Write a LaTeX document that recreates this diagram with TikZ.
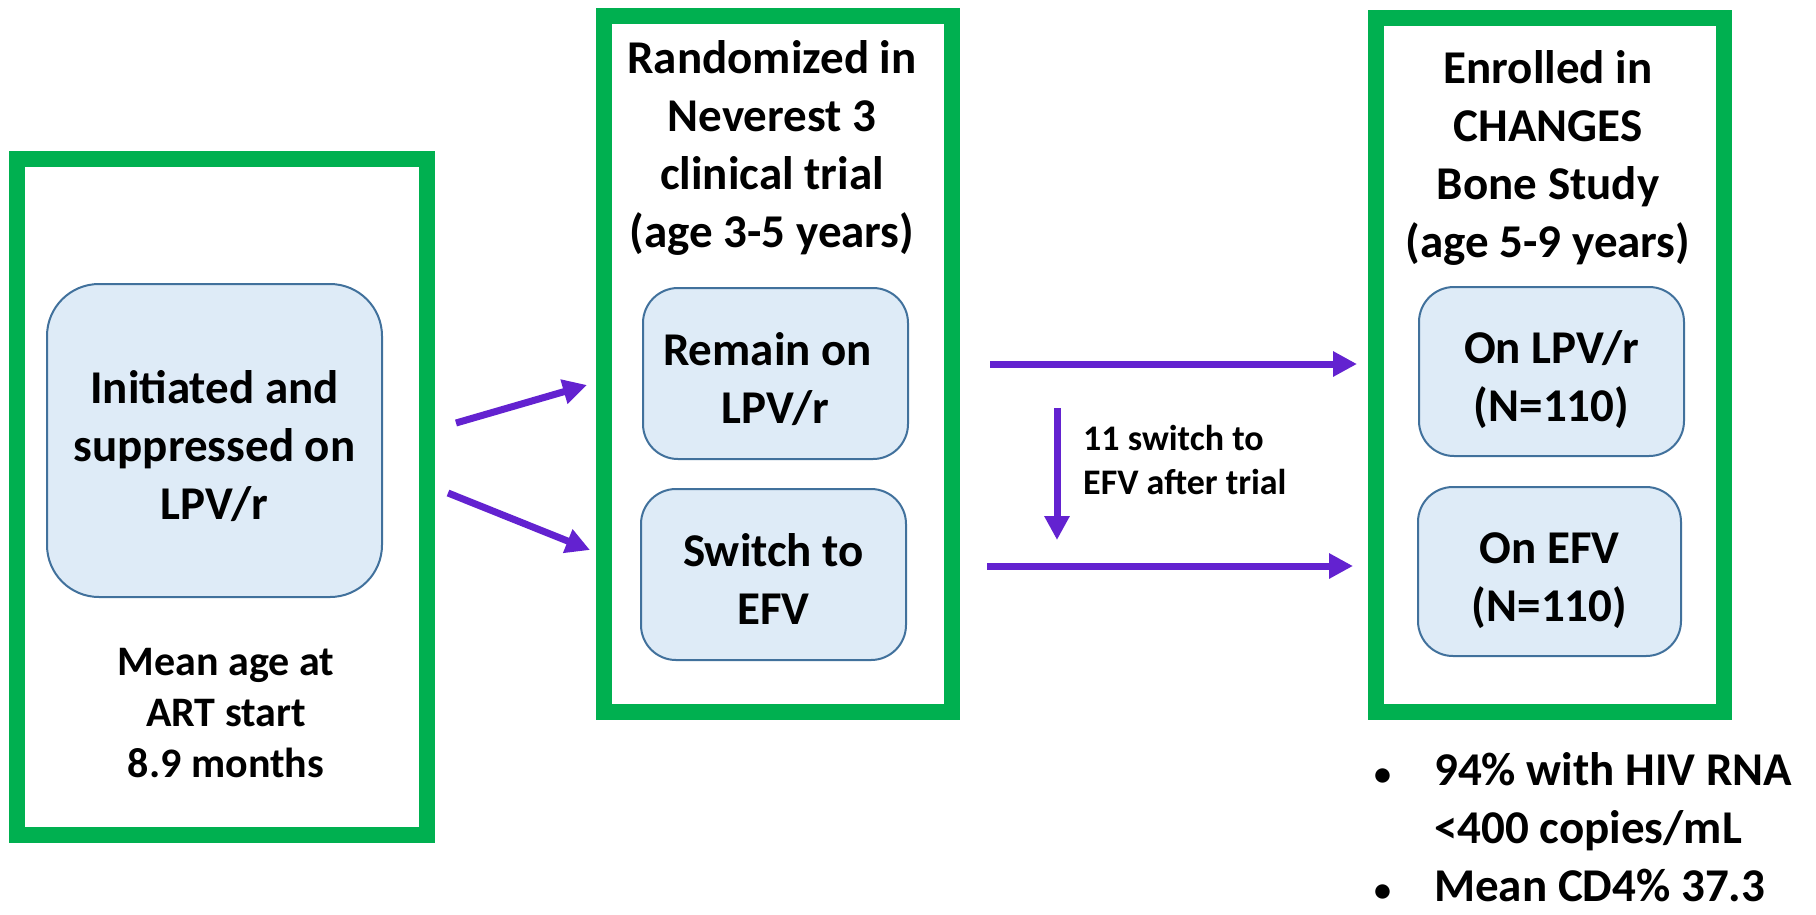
\documentclass[tikz,border=0pt]{standalone}
\usepackage{fontspec}
\setmainfont{Carlito}
\usetikzlibrary{arrows.meta}
\definecolor{frgreen}{HTML}{00B050}
\definecolor{boxfill}{HTML}{DEEBF7}
\definecolor{boxline}{HTML}{41719C}
\definecolor{arrpurple}{HTML}{6322D0}
\newcommand\tstr{\rule{0pt}{51pt}}
\newcommand\bstr{\rule[-10pt]{0pt}{10pt}}
\newcommand\tstrb{\rule{0pt}{44pt}}
\newcommand\smbullet{{\fontsize{34}{34}\selectfont •}}
\begin{document}
\begin{tikzpicture}[x=1pt,y=-1pt,
  frame/.style={draw=frgreen,line width=16pt,inner sep=0pt},
  pill/.style={draw=boxline,line width=2pt,fill=boxfill,inner sep=0pt,align=center,
    font=\bfseries\fontsize{47}{58}\selectfont},
  txt/.style={inner sep=0pt,font=\bfseries\fontsize{47}{58}\selectfont},
  flow/.style={draw=arrpurple,line width=7pt,-{Triangle[length=24pt,width=24pt]}}]
\fill[white] (0,0) rectangle (1816,914);
\useasboundingbox (0,0) rectangle (1816,914);

% green frames
\node[frame,minimum width=410pt,minimum height=676pt] (fL) at (222,497) {};
\node[frame,minimum width=348pt,minimum height=696pt] (fM) at (778,364) {};
\node[frame,minimum width=348pt,minimum height=694pt] (fR) at (1550,365) {};

% rounded boxes
\node[pill,rounded corners=52pt,minimum width=335pt,minimum height=313pt] (init) at (214.5,440.5)
  {\tstr Initiated and\\suppressed on\\LPV/r\bstr};
\node[pill,rounded corners=35pt,minimum width=265pt,minimum height=171pt] (remain) at (775.5,373.5)
  {\tstr Remain on\hspace*{16pt}\\LPV/r\bstr};
\node[pill,rounded corners=35pt,minimum width=265pt,minimum height=171pt] (switch) at (773.5,574.5)
  {\tstr Switch to\\EFV\bstr};
\node[pill,rounded corners=35pt,minimum width=265pt,minimum height=169pt] (onlpv) at (1551.5,371.5)
  {\tstr On LPV/r\\(N=110)\bstr};
\node[pill,rounded corners=35pt,minimum width=263pt,minimum height=169pt] (onefv) at (1549.5,571.5)
  {\tstr On EFV\\(N=110)\bstr};

% titles and texts
\node[txt,align=center,anchor=north] (titleM) at (772,29)
  {\tstrb Randomized in\\Neverest 3\\clinical trial\\(age 3-5 years)};
\node[txt,align=center,anchor=north] (titleR) at (1548,39)
  {\tstrb Enrolled in\\CHANGES\\Bone Study\\(age 5-9 years)};
\node[txt,align=center,anchor=north,font=\bfseries\fontsize{42}{51}\selectfont] (meanage) at (226,635)
  {\rule{0pt}{40pt}Mean age at\\ART start\\8.9 months};
\node[txt,align=left,anchor=north west,font=\bfseries\fontsize{36}{44}\selectfont] (lbl) at (1083,416)
  {\rule{0pt}{34pt}11 switch to\\EFV after trial};
\node[txt,anchor=north west] (stats) at (1374,745)
  {\begin{tabular}{@{}p{60pt}@{}l@{}}
   \smbullet & 94\% with HIV RNA\\
     & <400 copies/mL\\
   \smbullet & Mean CD4\% 37.3
   \end{tabular}};

% arrows
\coordinate (a1s) at (456,423); \coordinate (a1e) at (587,385);
\coordinate (a2s) at (448,493); \coordinate (a2e) at (590,550);
\coordinate (a3s) at (990,364); \coordinate (a3e) at (1357,364);
\coordinate (a4s) at (987,566); \coordinate (a4e) at (1353,566);
\coordinate (a5s) at (1057,408); \coordinate (a5e) at (1057,540);
\draw[flow] (a1s) -- (a1e);
\draw[flow] (a2s) -- (a2e);
\draw[flow] (a3s) -- (a3e);
\draw[flow] (a4s) -- (a4e);
\draw[flow] (a5s) -- (a5e);
\end{tikzpicture}
\end{document}
